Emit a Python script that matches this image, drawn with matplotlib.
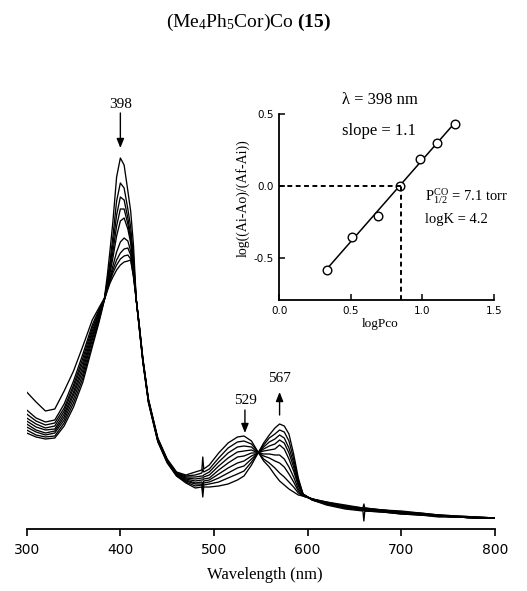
import matplotlib
matplotlib.use('Agg')
import matplotlib.pyplot as plt
import numpy as np

# ---------------- data ----------------
wavelength = [300, 310, 320, 330, 340, 350, 360, 370, 377, 383,
              386, 389, 392, 396, 400, 404, 408, 411, 414, 417,
              420, 424, 430, 440, 450, 460, 470, 480, 487, 488,
              489, 495, 505, 515, 525, 532, 540, 547, 553, 559,
              565, 570, 575, 580, 585, 590, 595, 605, 620, 640,
              659, 660, 661, 680, 700, 720, 740, 760, 780, 800]

# absorbance (arbitrary units) of the successive spectra
spec0 = [137, 127, 118, 120, 138, 158, 183, 209, 221, 231, 253, 279, 307, 352, 371, 364, 338, 318, 284, 229,
         206, 171, 130, 91, 70, 57, 54, 57, 59, 72, 60, 64, 76, 86, 92, 93, 88, 77, 68, 62,
         54, 48, 44, 40, 37, 34, 33, 30, 27, 24, 21, 25, 21, 19, 18, 16, 14, 13, 12, 11]
spec1 = [119, 111, 107, 109, 125, 148, 175, 204, 219, 230, 248, 268, 292, 328, 346, 341, 320, 302, 272, 229,
         205, 170, 129, 90, 69, 56, 53, 54, 56, 60, 57, 60, 71, 81, 87, 88, 85, 77, 70, 66,
         61, 56, 52, 47, 42, 36, 33, 30, 27, 23, 21, 21, 21, 19, 17, 16, 14, 13, 12, 11]
spec2 = [115, 108, 104, 106, 121, 144, 171, 201, 217, 230, 246, 263, 284, 314, 332, 329, 311, 294, 267, 229,
         205, 170, 129, 90, 69, 56, 52, 52, 53, 53, 54, 57, 67, 76, 82, 83, 82, 76, 73, 71,
         68, 66, 62, 55, 47, 38, 33, 30, 26, 23, 20, 20, 20, 19, 17, 15, 14, 12, 12, 11]
spec3 = [111, 105, 101, 103, 118, 141, 167, 198, 215, 230, 245, 259, 277, 303, 320, 320, 305, 290, 264, 229,
         204, 169, 128, 89, 68, 55, 51, 50, 51, 51, 52, 54, 63, 71, 77, 78, 79, 76, 75, 75,
         74, 74, 70, 62, 52, 40, 34, 30, 26, 22, 20, 20, 20, 18, 17, 15, 13, 12, 11, 11]
spec4 = [108, 102, 99, 100, 115, 137, 163, 195, 214, 230, 243, 256, 271, 293, 308, 311, 300, 286, 261, 229,
         204, 169, 128, 89, 68, 55, 50, 48, 49, 49, 50, 51, 59, 66, 72, 73, 76, 76, 78, 79,
         80, 84, 80, 70, 58, 43, 34, 30, 26, 22, 20, 20, 20, 18, 16, 15, 13, 12, 11, 11]
spec5 = [105, 99, 96, 98, 112, 134, 159, 192, 212, 230, 241, 252, 263, 277, 287, 291, 288, 278, 257, 229,
         204, 169, 128, 89, 68, 54, 49, 46, 47, 44, 48, 49, 55, 61, 66, 68, 73, 76, 80, 83,
         85, 89, 86, 76, 62, 45, 34, 29, 25, 22, 19, 19, 19, 18, 16, 15, 13, 12, 11, 11]
spec6 = [102, 97, 94, 96, 109, 130, 155, 189, 210, 230, 240, 250, 259, 269, 276, 280, 281, 274, 255, 229,
         203, 168, 127, 88, 67, 54, 48, 45, 45, 40, 46, 47, 51, 56, 61, 63, 70, 76, 82, 87,
         90, 94, 91, 81, 66, 47, 35, 29, 25, 21, 19, 19, 19, 17, 16, 14, 13, 12, 11, 11]
spec7 = [99, 94, 92, 93, 106, 126, 151, 185, 208, 230, 239, 248, 256, 264, 270, 273, 274, 270, 253, 229,
         203, 168, 127, 88, 67, 53, 47, 43, 44, 38, 44, 45, 47, 51, 55, 58, 67, 76, 84, 91,
         95, 99, 97, 88, 70, 49, 35, 29, 25, 21, 19, 19, 18, 17, 15, 14, 13, 12, 11, 11]
spec8 = [96, 92, 90, 91, 103, 122, 147, 182, 206, 229, 238, 246, 252, 259, 264, 267, 268, 269, 252, 229,
         202, 167, 126, 87, 66, 53, 46, 41, 42, 32, 42, 42, 43, 45, 49, 53, 64, 76, 86, 94,
         101, 105, 103, 95, 75, 51, 35, 29, 24, 20, 18, 8, 18, 17, 15, 14, 12, 12, 11, 11]

x_ticks = [300, 400, 500, 600, 700, 800]

# inset data
log_pco = [0.33, 0.51, 0.69, 0.84, 0.98, 1.10, 1.23]
log_ratio = [-0.58, -0.35, -0.21, 0.0, 0.19, 0.30, 0.43]
p_half = 7.1
inset_xticks = [0.0, 0.5, 1.0, 1.5]
inset_yticks = [-0.5, 0.0, 0.5]

# ---------------- style ----------------
plt.rcParams['font.family'] = ['DejaVu Sans']
plt.rcParams['mathtext.fontset'] = 'custom'
plt.rcParams['mathtext.rm'] = 'Liberation Serif'
plt.rcParams['mathtext.it'] = 'Liberation Serif:italic'
plt.rcParams['mathtext.bf'] = 'Liberation Serif:bold'
plt.rcParams['axes.unicode_minus'] = False
SERIF = ['Liberation Serif', 'DejaVu Serif']

W, H = 527, 591
fig = plt.figure(figsize=(W / 100, H / 100), dpi=100)


def fx(px):
    return px / W


def fy(py):
    return 1 - py / H


# ---------------- main spectra ----------------
ax = fig.add_axes([fx(26.7), fy(529), fx(495) - fx(26.7), 400 / H])
ax.patch.set_alpha(0)
for s in ['left', 'right', 'top']:
    ax.spines[s].set_visible(False)
ax.spines['bottom'].set_linewidth(1.3)
ax.set_xlim(300, 800)
ax.set_ylim(0, 400)
ax.set_yticks([])
ax.set_xticks(x_ticks)
ax.set_xticklabels([str(t) for t in x_ticks])
ax.tick_params(axis='x', direction='out', length=5, width=1.2, labelsize=10, pad=5)

for s in [spec0, spec1, spec2, spec3, spec4, spec5, spec6, spec7, spec8]:
    ax.plot(wavelength, s, color='black', lw=0.95)

arrow = dict(arrowstyle='-|>,head_length=0.55,head_width=0.22', lw=1.0, color='black',
             shrinkA=0, shrinkB=0)
ax.annotate('', xy=(400, 381), xytext=(400, 416), arrowprops=arrow, annotation_clip=False)
ax.text(400, 424, '398', ha='center', va='center', fontsize=11, family=SERIF, clip_on=False)
ax.annotate('', xy=(533, 96), xytext=(533, 119), arrowprops=arrow)
ax.text(534, 129, '529', ha='center', va='center', fontsize=11, family=SERIF)
ax.annotate('', xy=(570, 137), xytext=(570, 114), arrowprops=arrow)
ax.text(570, 150, '567', ha='center', va='center', fontsize=11, family=SERIF)

fig.text(fx(265), fy(575), 'Wavelength (nm)', ha='center', va='center', fontsize=12, family=SERIF)
fig.text(fx(249), fy(22), r'(Me$_{4}$Ph$_{5}$Cor)Co $\mathbf{(15)}$', ha='center', va='center',
         fontsize=14, family=SERIF)

# ---------------- inset ----------------
ins = fig.add_axes([fx(279.3), fy(300), fx(494) - fx(279.3), (300 - 114) / H])
ins.patch.set_alpha(0)
for s in ['right', 'top']:
    ins.spines[s].set_visible(False)
for s in ['left', 'bottom']:
    ins.spines[s].set_linewidth(1.3)
ins.set_xlim(0, 1.5)
ins.set_ylim(-0.79, 0.5)
ins.set_xticks(inset_xticks)
ins.set_xticklabels(['%.1f' % t for t in inset_xticks])
ins.set_yticks(inset_yticks)
ins.set_yticklabels(['%.1f' % t for t in inset_yticks])
ins.tick_params(direction='in', length=4, width=1.1, labelsize=7.5, pad=4)

coef = np.polyfit(log_pco, log_ratio, 1)
xl = np.array([min(log_pco), max(log_pco)])
ins.plot(xl, np.polyval(coef, xl), color='black', lw=1.1)
ins.plot(log_pco, log_ratio, 'o', mfc='white', mec='black', ms=6.2, mew=1.0)
xh = np.log10(p_half)
ins.plot([0, xh], [0, 0], color='black', lw=1.4, ls=(0, (2.5, 1.8)))
ins.plot([xh, xh], [-0.79, 0], color='black', lw=1.4, ls=(0, (2.5, 1.8)))

ins.text(-0.169, 0.548, 'log((Ai-Ao)/(Af-Ai))', rotation=90, ha='center', va='center',
         transform=ins.transAxes, fontsize=10, family=SERIF)
ins.text(0.469, -0.129, 'logPco', ha='center', va='center', transform=ins.transAxes,
         fontsize=9.5, family=SERIF)

fig.text(fx(342), fy(100), 'λ = 398 nm', ha='left', va='center', fontsize=12, family=SERIF)
fig.text(fx(342), fy(131), 'slope = 1.1', ha='left', va='center', fontsize=12, family=SERIF)
fig.text(fx(425), fy(196), r'P$_{1/2}^{\mathrm{CO}}$ = 7.1 torr', ha='left', va='center',
         fontsize=10.5, family=SERIF)
fig.text(fx(425), fy(219), 'logK = 4.2', ha='left', va='center', fontsize=10.5, family=SERIF)

fig.savefig('out.png', dpi=100)
